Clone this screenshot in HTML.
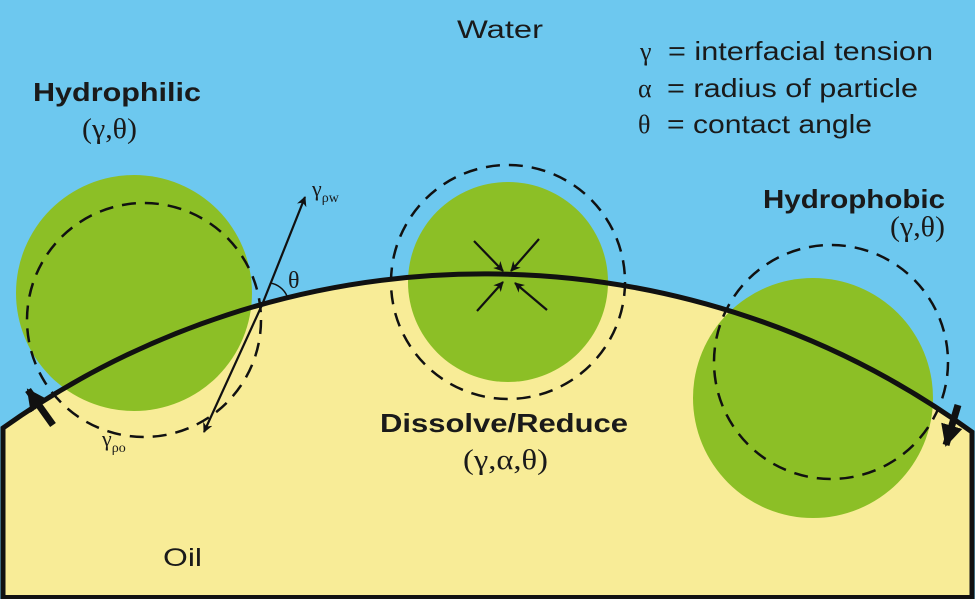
<!DOCTYPE html>
<html><head><meta charset="utf-8"><style>
html,body{margin:0;padding:0;background:#6dc8ef;}
svg{display:block}
.s{font-family:"Liberation Sans",sans-serif;fill:#1a1a1a}
.r{font-family:"Liberation Serif",serif;fill:#1a1a1a}
</style></head><body>
<svg width="975" height="599" viewBox="0 0 975 599" xmlns="http://www.w3.org/2000/svg">
<defs>
<marker id="a" markerWidth="10" markerHeight="10" refX="9" refY="5" orient="auto" markerUnits="userSpaceOnUse"><path d="M0,0 L10,5 L0,10 L3,5 Z" fill="#111"/></marker>
<marker id="b" markerWidth="22" markerHeight="22" refX="20" refY="11" orient="auto" markerUnits="userSpaceOnUse"><path d="M0,0 L22,11 L0,22 Z" fill="#111"/></marker>
</defs>
<rect width="975" height="599" fill="#6dc8ef"/>
<path d="M3,599 L3,428 A830,830 0 0 1 972,432 L972,599 Z" fill="#f8ec97"/>
<circle cx="134" cy="293" r="118" fill="#8cbf26"/>
<circle cx="508" cy="282" r="100" fill="#8cbf26"/>
<circle cx="813" cy="398" r="120" fill="#8cbf26"/>
<g fill="none" stroke="#111" stroke-width="2.5" stroke-dasharray="14,9">
<circle cx="144" cy="320" r="117"/>
<circle cx="508" cy="282" r="117"/>
<circle cx="831" cy="362" r="117"/>
</g>
<path d="M3,599 L3,428 A830,830 0 0 1 972,432 L972,599" fill="none" stroke="#111" stroke-width="5"/>
<line x1="3" y1="597" x2="972" y2="597" stroke="#111" stroke-width="4"/>
<g stroke="#111" stroke-width="2.2" marker-end="url(#a)">
<line x1="262" y1="305" x2="305" y2="197"/>
<line x1="262" y1="305" x2="204" y2="432"/>
<line x1="474" y1="241" x2="503" y2="271"/>
<line x1="539" y1="239" x2="511" y2="271"/>
<line x1="477" y1="311" x2="503" y2="282"/>
<line x1="547" y1="310" x2="515" y2="283"/>
</g>
<path d="M270,283 A22,22 0 0 1 287,296" fill="none" stroke="#111" stroke-width="1.5"/>
<g stroke="#111" stroke-width="7" marker-end="url(#b)">
<line x1="53" y1="425" x2="28" y2="390"/>
<line x1="958" y1="405" x2="946" y2="445"/>
</g>
<text x="457" y="38" class="s" font-size="25" textLength="86" lengthAdjust="spacingAndGlyphs">Water</text>
<text x="33" y="101" class="s" font-size="26" font-weight="bold" textLength="168" lengthAdjust="spacingAndGlyphs">Hydrophilic</text>
<text x="82" y="138" class="r" font-size="28" textLength="55" lengthAdjust="spacingAndGlyphs">(γ,θ)</text>
<text x="640" y="60" class="r" font-size="26">γ</text><text x="668" y="60" class="s" font-size="26" textLength="265" lengthAdjust="spacingAndGlyphs">= interfacial tension</text>
<text x="638" y="97" class="r" font-size="26">α</text><text x="667" y="97" class="s" font-size="26" textLength="251" lengthAdjust="spacingAndGlyphs">= radius of particle</text>
<text x="638" y="133" class="r" font-size="26">θ</text><text x="667" y="133" class="s" font-size="26" textLength="205" lengthAdjust="spacingAndGlyphs">= contact angle</text>
<text x="763" y="208" class="s" font-size="26" font-weight="bold" textLength="182" lengthAdjust="spacingAndGlyphs">Hydrophobic</text>
<text x="890" y="236" class="r" font-size="28" textLength="55" lengthAdjust="spacingAndGlyphs">(γ,θ)</text>
<text x="380" y="432" class="s" font-size="26" font-weight="bold" textLength="248" lengthAdjust="spacingAndGlyphs">Dissolve/Reduce</text>
<text x="463" y="469" class="r" font-size="28" textLength="85" lengthAdjust="spacingAndGlyphs">(γ,α,θ)</text>
<text x="163" y="566" class="s" font-size="25" textLength="39" lengthAdjust="spacingAndGlyphs">Oil</text>
<text x="288" y="288" class="r" font-size="24">θ</text>
<text x="312" y="196" class="r" font-size="22">γ<tspan font-size="14" dy="6">ρw</tspan></text>
<text x="102" y="446" class="r" font-size="22">γ<tspan font-size="14" dy="6">ρo</tspan></text>
</svg>
</body></html>
